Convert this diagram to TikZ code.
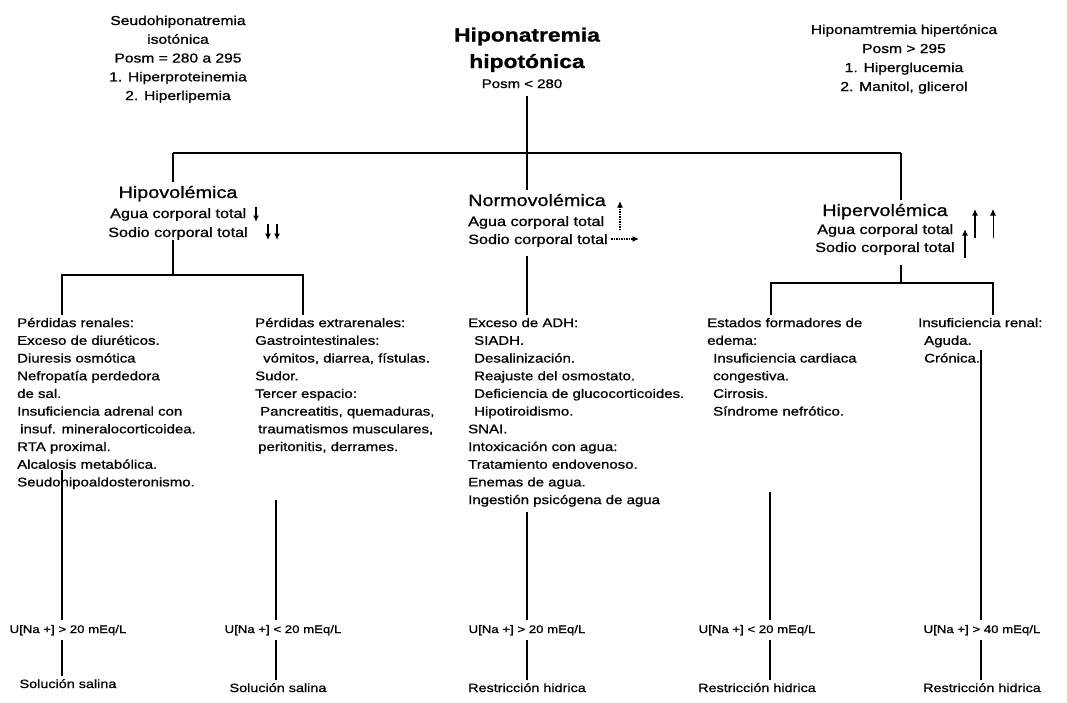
\documentclass[tikz,border=0pt]{standalone}
\usepackage{fontspec}
\setmainfont{Liberation Sans}[FakeStretch=1.2,FakeBold=0.9]
\usetikzlibrary{arrows.meta}
\begin{document}
\begin{tikzpicture}[x=1pt,y=-1pt,
  ln/.style={line width=1.3pt},
  arw/.style={line width=1.5pt,-{Latex[length=6.5pt,width=6pt]}},
  topblk/.style={inner sep=0pt,align=center,anchor=north,font=\fontsize{13}{18.75}\selectfont},
  ttl/.style={inner sep=0pt,anchor=base,font=\bfseries\fontsize{19}{24}\selectfont},
  catg/.style={inner sep=0pt,anchor=base,font=\fontsize{16.5}{20}\selectfont},
  subtxt/.style={inner sep=0pt,anchor=base west,font=\fontsize{13.5}{18}\selectfont},
  lst/.style={inner sep=0pt,anchor=north west,align=left,font=\fontsize{12.5}{17.7}\selectfont},
  una/.style={inner sep=0pt,anchor=base,font=\fontsize{11}{14}\selectfont},
  trt/.style={inner sep=0pt,anchor=base,font=\fontsize{12}{14}\selectfont},
]
\fill[white] (0,0) rectangle (1067,702);
\useasboundingbox (0,0) rectangle (1067,702);

% ---- top blocks
\node[topblk] (pseudo) at (178,11.7) {\strut Seudohiponatremia\\isotónica\\Posm = 280 a 295\\1. Hiperproteinemia\\2. Hiperlipemia};
\node[ttl] (t1) at (527,41.5) {Hiponatremia};
\node[ttl] (t2) at (527,68) {hipotónica};
\node[inner sep=0pt,anchor=base,font=\fontsize{12.5}{15}\selectfont] (posm) at (522,88) {Posm < 280};
\node[topblk,font=\fontsize{13}{19}\selectfont] (hipert) at (904,20.5) {\strut Hiponamtremia hipertónica\\Posm > 295\\1. Hiperglucemia\\2. Manitol, glicerol};

% ---- categories
\node[catg] (hipov) at (178,198) {Hipovolémica};
\node[subtxt] (hipova) at (110,218) {Agua corporal total};
\node[subtxt] (hipovs) at (108,237) {Sodio corporal total};

\node[catg] (normo) at (537,206) {Normovolémica};
\node[subtxt] (normoa) at (468,226) {Agua corporal total};
\node[subtxt] (normos) at (468,244) {Sodio corporal total};

\node[catg] (hiperv) at (885,216) {Hipervolémica};
\node[subtxt] (hiperva) at (817,234) {Agua corporal total};
\node[subtxt] (hipervs) at (815,252) {Sodio corporal total};

% ---- arrows (symbols)
\draw[arw] (256,207) -- (256,222);
\draw[arw] (268,224) -- (268,240);
\draw[arw] (277,224) -- (277,240);
\draw[arw,densely dotted] (620,230) -- (620,201);
\draw[arw,densely dotted] (611,239) -- (639,239);
\draw[arw] (965,258) -- (965,229);
\draw[arw] (975,238) -- (975,209);
\draw[arw,line width=0.8pt] (993,238) -- (993,209);

% ---- lists
\node[lst] (l1) at (17,314.5) {\strut Pérdidas renales:\\Exceso de diuréticos.\\Diuresis osmótica\\Nefropatía perdedora\\de sal.\\Insuficiencia adrenal con\\\hspace*{3pt}insuf. mineralocorticoidea.\\RTA proximal.\\Alcalosis metabólica.\\Seudohipoaldosteronismo.};
\node[lst] (l2) at (255,314.5) {\strut Pérdidas extrarenales:\\Gastrointestinales:\\\hspace*{8pt}vómitos, diarrea, fístulas.\\Sudor.\\Tercer espacio:\\\hspace*{5pt}Pancreatitis, quemaduras,\\\hspace*{3pt}traumatismos musculares,\\\hspace*{3pt}peritonitis, derrames.};
\node[lst] (l3) at (468,314.5) {\strut Exceso de ADH:\\\hspace*{6pt}SIADH.\\\hspace*{6pt}Desalinización.\\\hspace*{6pt}Reajuste del osmostato.\\\hspace*{6pt}Deficiencia de glucocorticoides.\\\hspace*{6pt}Hipotiroidismo.\\SNAI.\\Intoxicación con agua:\\Tratamiento endovenoso.\\Enemas de agua.\\Ingestión psicógena de agua};
\node[lst] (l4) at (707,314.5) {\strut Estados formadores de\\edema:\\\hspace*{6pt}Insuficiencia cardiaca\\\hspace*{6pt}congestiva.\\\hspace*{6pt}Cirrosis.\\\hspace*{6pt}Síndrome nefrótico.};
\node[lst] (l5) at (918,314.5) {\strut Insuficiencia renal:\\\hspace*{6pt}Aguda.\\\hspace*{6pt}Crónica.};

% ---- urinary sodium and treatments
\node[una] (u1) at (68,633) {U[Na +] > 20 mEq/L};
\node[una] (u2) at (283,633) {U[Na +] < 20 mEq/L};
\node[una] (u3) at (527,633) {U[Na +] > 20 mEq/L};
\node[una] (u4) at (757,633) {U[Na +] < 20 mEq/L};
\node[una] (u5) at (982,633) {U[Na +] > 40 mEq/L};
\node[trt] (r1) at (68,688) {Solución salina};
\node[trt] (r2) at (278,692) {Solución salina};
\node[trt] (r3) at (527,692) {Restricción hidrica};
\node[trt] (r4) at (757,692) {Restricción hidrica};
\node[trt] (r5) at (982,692) {Restricción hidrica};

% ---- connectors
\coordinate (bus) at (527,153);
\coordinate (busL) at (173,153);
\coordinate (busR) at (901,153);
\draw[ln] ([yshift=-8pt]bus |- posm.south) -- (bus);
\draw[ln] (busL) -- (busR);
\draw[ln,shorten >=4pt] (busL) -- (busL |- hipov.north);
\draw[ln,shorten >=4pt] (bus) -- (bus |- normo.north);
\draw[ln,shorten >=4pt] (busR) -- (busR |- hiperv.north);

\coordinate (hvA) at (173,240); \coordinate (hvB) at (173,275);
\coordinate (hvL) at (62,275); \coordinate (hvR) at (303,275);
\draw[ln] (hvA) -- (hvB);
\draw[ln] (l1.north -| hvL) -- (hvL) -- (hvR) -- (l2.north -| hvR);

\coordinate (nvA) at (527,256);
\draw[ln] (nvA) -- (l3.north -| nvA);

\coordinate (hpA) at (901,265); \coordinate (hpB) at (901,283);
\coordinate (hpL) at (771,283); \coordinate (hpR) at (993,283);
\draw[ln] (hpA) -- (hpB);
\draw[ln] (l4.north -| hpL) -- (hpL) -- (hpR) -- (l5.north -| hpR);

\coordinate (d1) at (62,470);
\coordinate (d2) at (276,500);
\coordinate (d3) at (527,512);
\coordinate (d4) at (770,492);
\coordinate (d5) at (981,350);
\foreach \i in {1,...,5}{
  \draw[ln,shorten >=5pt] (d\i) -- (d\i |- u\i.north);
  \draw[ln,shorten <=5pt,shorten >=3pt] (d\i |- u\i.south) -- (d\i |- r\i.north);
}
\end{tikzpicture}
\end{document}
